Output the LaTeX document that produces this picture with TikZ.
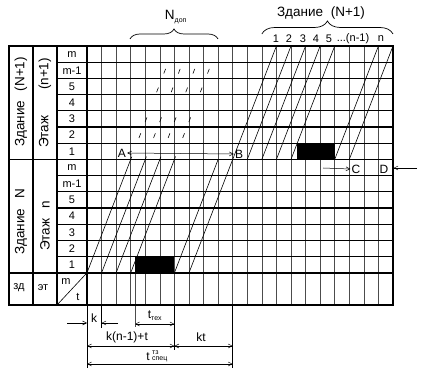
\documentclass[tikz,border=0pt]{standalone}
\usepackage{fontspec}
\setmainfont{Liberation Sans}
\usetikzlibrary{decorations.pathreplacing,arrows.meta}

\newcommand{\cw}{14.571}
\newcommand{\lowtag}[1]{\hbox{\fontsize{7}{7}\selectfont #1}}

\begin{document}
\begin{tikzpicture}[x=1pt,y=-1pt,
    vline/.style = {draw, line width=0.5pt, color=black!70},
    hline/.style = {draw, line width=1.1pt},
    border/.style = {draw, line width=1.5pt},
    flow/.style = {draw, line width=0.6pt},
    extra/.style = {draw, line width=0.6pt,
      dash pattern=on 3pt off 20pt on 5pt off 12pt on 5pt off 27pt on 5pt off 15pt on 5pt off 30pt},
    dim/.style = {draw, line width=0.5pt,
      {Straight Barb[length=4pt,width=4pt]}-{Straight Barb[length=4pt,width=4pt]}},
    dimto/.style = {draw, line width=0.5pt, -{Straight Barb[length=4pt,width=4pt]}},
    bigtext/.style = {font=\fontsize{13.5}{14}\selectfont, inner sep=1pt},
    midtext/.style = {font=\fontsize{12}{13}\selectfont, inner sep=1pt},
    rowtext/.style = {font=\fontsize{11}{12}\selectfont, inner sep=1pt},
    curly/.style = {draw, line width=0.7pt, decorate,
      decoration={brace, amplitude=#1}}
    ]
    \useasboundingbox (0,0) rectangle (423,371);

    \foreach \i in {1,...,20}
        \draw[vline] ({87+\i*\cw},46) -- ({87+\i*\cw},305);
    \draw[vline] (135,272.8) -- (135,327);
    \foreach \j in {1,...,6,8,9,...,13}
        \draw[hline] (57,{46+\j*16.2}) -- (393,{46+\j*16.2});
    \draw[hline] (33,46) -- (33,305);
    \draw[hline] (57,46) -- (57,305);
    \draw[hline] (87,46) -- (87,305);
    \draw[border] (9,46) rectangle (393,305);
    \draw[border] (9,159.4) -- (393,159.4);
    \draw[border] (9,272.8) -- (393,272.8);
    \draw[flow] (57,305) -- (87,272.8);

    \fill (135,256.6) rectangle ({87+6*\cw},272.8);
    \fill (297,143.2) rectangle ({87+17*\cw},159.4);

    \foreach \i in {0,1,2,3,6,7}
        \draw[flow] ({87+\i*\cw},272.8) -- ({87+(\i+3)*\cw},159.4);
    \foreach \i in {10,...,14,17,18}
        \draw[flow] ({87+\i*\cw},159.4) -- ({87+(\i+3)*\cw},46);
    \foreach \i in {3,...,6}
        \draw[extra] ({87+\i*\cw},159.4) -- ({87+(\i+3)*\cw},46);

    \foreach \t [count=\j from 0] in {m,m-1,5,4,3,2,1} {
        \node[rowtext] (ru\j) at (72,{46+(\j+0.5)*16.2}) {\t};
        \node[rowtext] (rl\j) at (72,{159.4+(\j+0.5)*16.2}) {\t};
    }
    \node[bigtext, rotate=90] (bldup) at (21,102) {Здание\hspace{6pt} (N+1)};
    \node[bigtext, rotate=90] (flrup) at (45,103) {Этаж\hspace{22pt} (n+1)};
    \node[bigtext, rotate=90] (bldlo) at (21,222) {Здание\hspace{6pt} N};
    \node[bigtext, rotate=90] (flrlo) at (45,226) {Этаж\hspace{6pt} n};
    \node[rowtext] (zd) at (19,288) {зд};
    \node[rowtext] (et) at (43,288) {эт};
    \node[rowtext] (mm) at (66,282) {m};
    \node[rowtext] (tt) at (78,297) {t};

    \node[bigtext] (ndop) at (176,17) {N$_{\lowtag{доп}}$};
    \draw[curly=10pt] (130,39) -- (218,39);
    \node[bigtext] (bldhead) at (321,13) {Здание\hspace{4pt} (N+1)};
    \draw[curly=13pt] ({87+12*\cw},34) -- (393,34);
    \foreach \t/\x in {1/276,2/289,3/303,4/316,5/329,{...(n-1)}/353,n/381}
        \node[rowtext] (num\x) at (\x,39) {\t};

    \node[midtext] (A) at (122,153) {A};
    \node[midtext] (B) at (239,154) {B};
    \draw[dim] (A.east) -- (B.west);
    \node[midtext] (C) at (356,169) {C};
    \coordinate (cin) at (323,168);
    \draw[dimto] (cin) -- (C.west);
    \node[midtext] (D) at (384,169) {D};
    \coordinate (din) at (417,168);
    \coordinate (dout) at (393.5,168);
    \draw[dimto] (din) -- (dout);

    \draw[flow, line width=0.5pt] (87,305) -- (87,368);
    \draw[flow, line width=0.5pt] ({87+\cw},305) -- ({87+\cw},328);
    \draw[flow, line width=0.5pt] ({87+6*\cw},305) -- ({87+6*\cw},350);
    \draw[flow, line width=0.5pt] ({87+10*\cw},305) -- ({87+10*\cw},368);
    \coordinate (kA) at (67,323);
    \coordinate (kB) at (87,323);
    \coordinate (kC) at ({87+\cw},323);
    \coordinate (kD) at (118,323);
    \coordinate (tA) at (135,324);
    \coordinate (tB) at ({87+6*\cw},324);
    \coordinate (sA) at (87,346);
    \coordinate (sB) at ({87+6*\cw},346);
    \coordinate (sC) at ({87+10*\cw},346);
    \coordinate (zA) at (87,364);
    \coordinate (zB) at ({87+10*\cw},364);
    \draw[dimto] (kA) -- (kB);
    \draw[dimto] (kD) -- (kC);
    \draw[dim] (tA) -- (tB);
    \draw[dim] (sA) -- (sB);
    \draw[dim] (sB) -- (sC);
    \draw[dim] (zA) -- (zB);
    \node[midtext] (k) at (94,318) {k};
    \node[midtext] (ttech) at (155,316) {t$_{\lowtag{тех}}$};
    \node[midtext] (kn) at (127,337) {k(n-1)+t};
    \node[midtext] (kt) at (201,337) {kt};
    \node[midtext] (tspec) at (148,357) {t};
    \node[font=\fontsize{7}{7}\selectfont, inner sep=0pt, anchor=south west]
        (tsup) at (152,355) {тз};
    \node[font=\fontsize{7}{7}\selectfont, inner sep=0pt, anchor=north west]
        (tsub) at (152,357) {спец};
\end{tikzpicture}
\end{document}
